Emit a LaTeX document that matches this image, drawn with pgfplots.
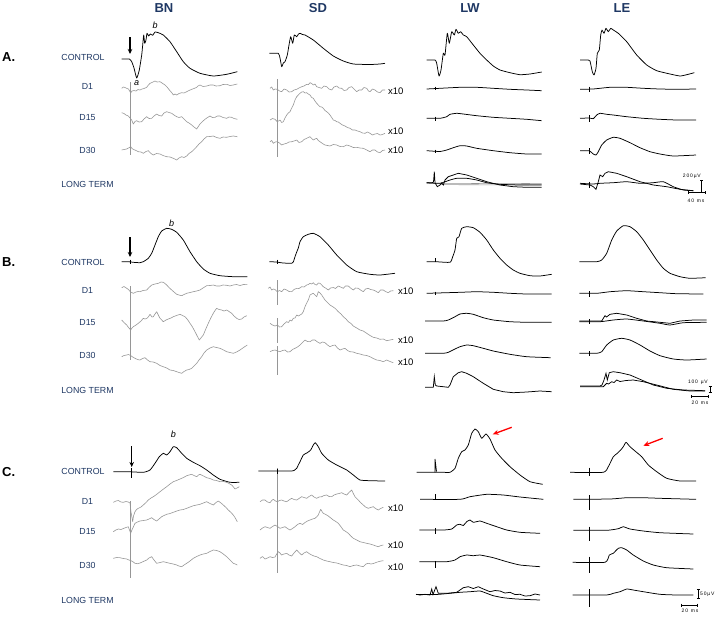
\documentclass[border=0pt]{standalone}
\usepackage{pgfplots}
\pgfplotsset{compat=1.18}
\usetikzlibrary{arrows.meta}
\usepackage{fontspec}
\setmainfont{Liberation Sans}
\definecolor{navy}{RGB}{31,56,100}
\definecolor{tracegray}{RGB}{150,150,150}
\pgfplotsset{
  blk/.style={black, line width=0.75bp, no markers, smooth, tension=0.3, line join=round},
  gry/.style={color=tracegray, line width=0.6bp, no markers, line join=round},
  stk/.style={black, line width=0.75bp, no markers},
}
\newcommand{\ttl}[1]{{\fontsize{13bp}{14bp}\selectfont\bfseries #1}}
\newcommand{\rowl}[1]{{\fontsize{8.8bp}{10bp}\selectfont #1}}
\newcommand{\xten}{{\fontsize{9.5bp}{10bp}\selectfont x10}}
\begin{document}
\begin{tikzpicture}
\begin{axis}[
  width=722bp, height=615bp, scale only axis,
  xmin=0, xmax=722, ymin=0, ymax=615, y dir=reverse,
  hide axis, clip=false,
]
\path (axis cs:0,0) rectangle (axis cs:722,615);
% ---------- titles ----------
\node[text=navy] at (axis cs:164,8) {\ttl{BN}};
\node[text=navy] at (axis cs:318,8) {\ttl{SD}};
\node[text=navy] at (axis cs:470,8) {\ttl{LW}};
\node[text=navy] at (axis cs:622,8) {\ttl{LE}};
% ---------- panel letters ----------
\node[anchor=west, inner sep=0] at (axis cs:2,57) {\ttl{A.}};
\node[anchor=west, inner sep=0] at (axis cs:2,262) {\ttl{B.}};
\node[anchor=west, inner sep=0] at (axis cs:2,472) {\ttl{C.}};
% ---------- row labels ----------
\node[text=navy] at (axis cs:83,57) {\rowl{CONTROL}};
\node[text=navy] at (axis cs:87.5,86) {\rowl{D1}};
\node[text=navy] at (axis cs:87.5,118) {\rowl{D15}};
\node[text=navy] at (axis cs:87.5,150) {\rowl{D30}};
\node[text=navy] at (axis cs:87.5,184) {\rowl{LONG TERM}};
\node[text=navy] at (axis cs:83,262) {\rowl{CONTROL}};
\node[text=navy] at (axis cs:87.5,290.7) {\rowl{D1}};
\node[text=navy] at (axis cs:87.5,322.3) {\rowl{D15}};
\node[text=navy] at (axis cs:87.5,355) {\rowl{D30}};
\node[text=navy] at (axis cs:87.5,390) {\rowl{LONG TERM}};
\node[text=navy] at (axis cs:83,471.7) {\rowl{CONTROL}};
\node[text=navy] at (axis cs:87.5,501.7) {\rowl{D1}};
\node[text=navy] at (axis cs:87.5,531.7) {\rowl{D15}};
\node[text=navy] at (axis cs:87.5,565) {\rowl{D30}};
\node[text=navy] at (axis cs:87.5,600) {\rowl{LONG TERM}};
% ---------- x10 labels ----------
\node[anchor=west, inner sep=0] at (axis cs:388,91) {\xten};
\node[anchor=west, inner sep=0] at (axis cs:388,131) {\xten};
\node[anchor=west, inner sep=0] at (axis cs:388,150.5) {\xten};
\node[anchor=west, inner sep=0] at (axis cs:398,291.7) {\xten};
\node[anchor=west, inner sep=0] at (axis cs:398,340) {\xten};
\node[anchor=west, inner sep=0] at (axis cs:398,362.5) {\xten};
\node[anchor=west, inner sep=0] at (axis cs:388,508.3) {\xten};
\node[anchor=west, inner sep=0] at (axis cs:388,545) {\xten};
\node[anchor=west, inner sep=0] at (axis cs:388,567) {\xten};
% ---------- a / b labels and arrows ----------
\node at (axis cs:136.7,83) {\fontsize{9bp}{10bp}\selectfont\itshape a};
\node at (axis cs:155,25) {\fontsize{9bp}{10bp}\selectfont\itshape b};
\node at (axis cs:171.7,223) {\fontsize{9bp}{10bp}\selectfont\itshape b};
\node at (axis cs:173.3,434) {\fontsize{9bp}{10bp}\selectfont\itshape b};
\draw[-{Stealth[length=5bp,width=4.5bp]}, line width=1.1bp] (axis cs:130,37) -- (axis cs:130,54);
\draw[-{Stealth[length=5bp,width=4.5bp]}, line width=1.1bp] (axis cs:130,237) -- (axis cs:130,257);
\draw[-{Stealth[length=5bp,width=4.5bp]}, line width=1.1bp] (axis cs:131.7,446) -- (axis cs:131.7,467);
\draw[-{Stealth[length=6bp,width=5bp]}, red, line width=1.3bp] (axis cs:511.7,427.3) -- (axis cs:492.7,434.3);
\draw[-{Stealth[length=6bp,width=5bp]}, red, line width=1.3bp] (axis cs:662.7,438.3) -- (axis cs:643.3,445.7);
% ---------- scale bars ----------
\node[anchor=east, inner sep=0] at (axis cs:701,176) {\fontsize{5}{6}\selectfont 2\,0\,0\,µ\,V};
\draw[line width=0.5bp] (axis cs:701.7,180)--(axis cs:701.7,191.7) (axis cs:700,180)--(axis cs:703.4,180);
\draw[line width=0.5bp] (axis cs:688,192.7)--(axis cs:705,192.7) (axis cs:688,191.2)--(axis cs:688,194.2) (axis cs:705,191.2)--(axis cs:705,194.2);
\node at (axis cs:696,201) {\fontsize{5}{6}\selectfont 4\,0 \ m\,s};
\node[anchor=east, inner sep=0] at (axis cs:708,382) {\fontsize{5}{6}\selectfont 1\,0\,0 \ µ\,V};
\draw[line width=0.5bp] (axis cs:710,386.7)--(axis cs:710,392.7) (axis cs:708.5,386.7)--(axis cs:711.5,386.7) (axis cs:708.5,392.7)--(axis cs:711.5,392.7);
\draw[line width=0.5bp] (axis cs:691.7,396.7)--(axis cs:708.3,396.7) (axis cs:691.7,395.2)--(axis cs:691.7,398.2) (axis cs:708.3,395.2)--(axis cs:708.3,398.2);
\node at (axis cs:700,402.5) {\fontsize{5}{6}\selectfont 2\,0 \ m\,s};
\draw[line width=0.5bp] (axis cs:698.3,589.3)--(axis cs:698.3,598.3) (axis cs:696.8,589.3)--(axis cs:699.8,589.3) (axis cs:696.8,598.3)--(axis cs:699.8,598.3);
\node[anchor=west, inner sep=0] at (axis cs:700,594) {\fontsize{5}{6}\selectfont 5\,0\,µ\,V};
\draw[line width=0.5bp] (axis cs:681.7,605)--(axis cs:697.3,605) (axis cs:681.7,603.5)--(axis cs:681.7,606.5) (axis cs:697.3,603.5)--(axis cs:697.3,606.5);
\node at (axis cs:690,611) {\fontsize{5}{6}\selectfont 2\,0 \ m\,s};

% ================= PANEL A =================
% BN
\addplot[blk] coordinates {(121.7,59)(129.3,59)(131.7,61.7)(134,68)(136.7,78)(139.3,70)(141.7,55)(142.7,45)(143.7,35)(144.7,43.3)(146,40)(147,33.3)(148.7,36)(150.3,34)(152.7,35.3)(155,32)(158.3,32.7)(163.3,35)(170,41.7)(176.7,51.7)(183.3,61.7)(190,68.3)(200,73.3)(213.3,76)(226.7,74.3)(237.3,71.7)};
\addplot[gry] coordinates {(130.7,82)(130.7,155)};
\addplot[gry] coordinates {(121.7,88.3)(123.5,87)(125,87.5)(127,88.5)(128.5,89)(130.7,93)(132,91)(134,90.5)(136,91)(138,89.5)(140,90)(142,89)(144,88.5)(146.7,87.3)(148,85.5)(150,83.3)(152,82.5)(155,81)(157,82)(160,81.7)(162,83)(165,85)(167,87)(170,90.7)(172,93)(173.3,95)(175,94)(176.7,95)(179,93.5)(181.7,92.7)(184,93)(186.7,91.7)(189,90.5)(191.7,89.3)(194,88.5)(196.7,87.3)(198,86)(200,85)(203,86.5)(206.7,86)(210,85)(213.3,85)(216,86)(220,85.7)(223,84.5)(226.7,84.3)(230,85.5)(233.3,85)(235,84.5)(237.3,84)};
\addplot[gry] coordinates {(121.7,112.7)(124,113.5)(126,115)(128.3,116)(130,118)(131.7,120)(133.3,124)(135,121.5)(136.7,120.7)(139,122)(141.7,121.7)(144,119)(146.7,116.7)(149,118.5)(151.7,118.3)(154,116)(156.7,114)(159,115.5)(161.7,116)(164,113)(166.7,111.7)(169,112.5)(171.7,113.3)(174,115)(176.7,116.7)(179,117.5)(181.7,116.7)(184,119)(186.7,121.7)(189,123)(191.7,125)(194,127)(196.7,129)(198,127)(200,124)(202.5,121.5)(205,119.3)(207.5,117.5)(210,116)(212.5,117.5)(215,117.3)(217.5,116)(220,116)(223,117.5)(226.7,118.3)(229,117)(231.7,117.3)(234,118.5)(237.3,119.3)};
\addplot[gry] coordinates {(121.7,150)(124,149.5)(126.7,149)(128.5,148)(130.7,146.7)(132,148.5)(133.3,149.3)(136,150.5)(138.3,151.7)(141,152)(143.3,153.3)(146,151.5)(148.3,150.7)(151,153.5)(153.3,155)(156.5,153.5)(160,154)(163,155.5)(166.7,156.7)(170,157)(173.3,158.3)(176.7,160)(179,158)(181.7,156.7)(184,157.5)(186.7,156)(189,153.5)(191.7,151.7)(194,149.5)(196.7,146.7)(199,144)(201.7,141.7)(204,139)(206.7,136.7)(210,136.5)(213.3,136)(216.5,137.5)(220,138.3)(223,137)(226.7,137.3)(230,136.5)(233.3,136)(237.3,136.7)};
% SD
\addplot[blk] coordinates {(269.3,53.3)(278.3,53.3)(280,58)(281.7,66.7)(283.3,63)(285,61.7)(287.3,55)(289,45)(290.7,36.7)(292.7,43.3)(294.3,35)(296.7,36.7)(298.5,34)(300,33.3)(302.5,34.5)(305,35)(313.3,40)(323.3,48.3)(333.3,56)(343.3,61)(353.3,64)(370,64.5)(380,64)(385,63.3)};
\addplot[gry] coordinates {(277.5,79)(277.5,157)};
\addplot[gry] coordinates {(270,88.3)(271.7,87)(273.3,90)(275,89)(277.3,89.3)(279.5,91)(281.7,91.7)(284,89)(286.7,90)(289,92)(291.7,91.7)(294,90)(296.7,89.3)(299,88)(301.7,86.7)(304,86)(306.7,84.3)(308.5,84.5)(310,82.7)(311.7,83.5)(313.3,85)(315,84)(316.7,86.7)(319,87.5)(321.7,88.3)(324,86)(326.7,86.7)(329,89)(331.7,90)(334,87)(336.7,86)(339,88)(341.7,88.3)(344,90.5)(346.7,90)(349,87.5)(351.7,86.7)(354,89)(356.7,91.7)(359,90)(361.7,90)(364,87.5)(366.7,88.3)(368.5,91)(370,91.7)(372.5,89)(375,90)(377.5,92)(380,92.7)(382.5,90)(385,90)};
\addplot[gry] coordinates {(270,120)(272.5,118.5)(275,119.3)(277.3,121.7)(280,120)(281.7,122.5)(283.3,121.7)(285,118)(286.7,115)(288.3,113)(290,111.7)(291.7,108)(293.3,105)(295,100)(296.7,96.7)(298.3,95)(300,93.3)(301.7,92)(303.3,91.7)(305,93)(306.7,92.7)(308.3,94)(310,95)(311.7,97.5)(313.3,98.3)(315,101)(316.7,103.3)(318.3,105)(320,106.7)(321.7,107)(323.3,108.3)(325,110.5)(326.7,111.7)(328.3,113)(330,115)(331.7,117.5)(333.3,120)(335,120.5)(336.7,121.7)(338.3,122)(340,123.3)(342.5,125)(345,126)(347.5,127.5)(350,128.3)(352.5,130)(355,130)(357.5,131)(360,131.7)(362.5,133)(365,133.3)(367.5,132)(370,133.3)(372.5,135)(375,134)(377.5,133.5)(380,135)(382.5,134.5)(385,133.3)};
\addplot[gry] coordinates {(270,141.7)(271.7,140.5)(273.3,143.3)(275.3,142)(277.3,141.7)(279.5,143)(281.7,145)(284,144)(286.7,143.3)(289,142)(291.7,141.7)(294,141)(296.7,140)(299,142.5)(301.7,141.7)(304,139.5)(306.7,138.3)(308.3,137.5)(310,136.7)(311.7,138.5)(313.3,140)(315,139)(316.7,138.3)(318.3,140.5)(320,141.7)(322.5,143.5)(325,145)(327.5,145.5)(330,146)(333.3,144.5)(336.7,145)(340,146.5)(343.3,146.7)(346.7,145)(350,146)(353.3,147.5)(356.7,147.3)(360,148)(363.3,148.3)(366.7,150)(370,151.7)(372.5,150)(375,150)(377.5,152)(380,152.7)(382.5,150.5)(385,150)};
% LW
\addplot[blk] coordinates {(426.7,60)(435,60)(436.7,63.3)(439,76)(441,70)(443.3,53.3)(445,55)(447.3,33.3)(449.3,43.3)(451.7,31.7)(454.3,35)(456,29.3)(458.3,33.3)(460.7,31.7)(463.3,35)(466.7,36.7)(473.3,45)(480,53.3)(486.7,60)(493.3,66)(500,70)(510,72.7)(520,74.7)(530,74)(541.7,72)};
\addplot[blk] coordinates {(426.7,89)(460,87.3)(476.7,87.3)(493.3,88.3)(510,89.3)(526.7,90)(541.7,90.7)};
\addplot[blk] coordinates {(426.7,118.3)(440,118.3)(446.7,116.7)(450,114.3)(456.7,113.3)(463.3,114)(476.7,115.7)(493.3,117.3)(510,118.3)(526.7,119.3)(541.7,120.7)};
\addplot[blk] coordinates {(426.7,150.7)(440,151.5)(446.7,150)(453.3,147.7)(460,145.7)(466.7,146)(476.7,148.3)(493.3,150.7)(510,152.7)(526.7,154)(541.7,154)};
\addplot[stk] coordinates {(435,86.5)(435,90)};
\addplot[stk] coordinates {(435,116.5)(435,120.5)};
\addplot[stk] coordinates {(435,149.5)(435,153)};
\addplot[gry] coordinates {(426.7,183.3)(460,183.3)(500,183.8)(541.7,183.3)};
\addplot[gry] coordinates {(440,184.6)(500,184.9)(541.7,184.6)};
\addplot[stk] coordinates {(426.7,182.7)(432,182.7)(433.5,182)(434.3,171.7)(435,182.7)(437.3,186.7)(440,185)(441.7,183)(443.3,185)(445,180)(448.3,176.7)(453.3,175)(458.3,173.3)(466.7,175)(476.7,178.3)(486.7,181.7)(500,185)(513.3,186.7)(526.7,187.3)(541.7,187.3)};
\addplot[blk] coordinates {(426.7,182.7)(440,183.3)(450,180)(456.7,178.3)(466.7,178.3)(476.7,180)(486.7,182.7)(500,184.3)(520,185)(541.7,185)};
% LE
\addplot[blk] coordinates {(580,60)(588.3,60)(590,61)(592.3,71.7)(594,75)(596,68.3)(597.3,53.3)(599.3,50)(600.7,35)(602,30)(604,33.3)(606,28.3)(608.3,31.7)(610.7,28.3)(613.3,30)(618.3,33.3)(626.7,41.7)(636.7,55)(646.7,65)(656.7,70.7)(670,74)(680,76)(686.7,74.7)(694.3,72.7)};
\addplot[blk] coordinates {(580,89.3)(593,89)(610,87.3)(626.7,87.3)(643.3,88.3)(660,89)(676.7,89.3)(696,89)};
\addplot[blk] coordinates {(580,118.3)(589.3,118)(593.3,118.7)(596.7,115)(600,113.3)(606.7,114.3)(613.3,115)(626.7,116.7)(643.3,118.3)(660,119.3)(676.7,120)(696,120)};
\addplot[blk] coordinates {(580,150.7)(589.3,150.7)(591,152)(593.3,154)(596,155)(598.3,151.7)(601.7,145)(606.7,140)(613.3,137.3)(620,138.3)(630,142.7)(640,147.7)(650,151.7)(660,154)(673.3,156)(696,155)};
\addplot[stk] coordinates {(589.3,86.7)(589.3,91.7)};
\addplot[stk] coordinates {(589.3,115)(589.3,121.7)};
\addplot[stk] coordinates {(589.3,148)(589.3,154)};
\addplot[stk] coordinates {(580,184)(590,185)(593.3,186.7)(596,189.3)(598.3,181.7)(600,175)(602.7,176.7)(605,173.3)(608.3,171.7)(616.7,173.3)(626.7,176.7)(640,181.7)(653.3,185)(666.7,186.7)(680,189.3)(693.3,190.7)};
\addplot[blk] coordinates {(580,183.3)(593.3,184)(600,183.3)(613.3,182.7)(626.7,181.7)(640,183.3)(653.3,182.7)(663.3,181.7)(673.3,186.7)(683.3,190)(693.3,190.7)};
\addplot[stk] coordinates {(589.3,181.7)(589.3,188.3)};

% ================= PANEL B =================
% BN
\addplot[blk] coordinates {(121.7,261.7)(128.3,261.7)(133.3,262.3)(140,262.7)(143.3,261.7)(148.3,258.3)(151.7,253.3)(155,245)(158.3,236.7)(161.7,231)(166.7,228.3)(171.7,229.3)(176.7,232.3)(183.3,240)(190,251.7)(196.7,261.7)(203.3,269)(210,273.3)(220,275.7)(233.3,276.7)(247.3,276.7)};
\addplot[stk] coordinates {(130,259.5)(130,263.5)};
\addplot[gry] coordinates {(130,286)(130,360)};
\addplot[gry] coordinates {(121.7,287.7)(124,286.5)(126.7,288.3)(128.5,289.5)(130.5,292)(133.3,293.3)(136,292)(138,291.5)(140,291.7)(143,290.5)(146.7,290)(149,287.5)(151.7,285)(155,284)(158.3,283.3)(161,282)(163.3,282.3)(165,283.5)(166.7,285)(169,287.5)(171.7,290)(174,292)(176.7,294.3)(179,295)(181.7,295.7)(184,294.5)(186.7,293.3)(190,292.5)(193.3,291.7)(196.5,291)(200,290)(203,288)(206.7,285.7)(210,285.5)(213.3,285)(216.5,286)(220,286)(223,285)(226.7,285.3)(230,286)(233.3,285)(236.5,284.5)(240,285.5)(243.5,284.5)(247.3,284.3)};
\addplot[gry] coordinates {(121.7,320)(124,322.5)(126.7,325)(128.5,327.5)(130.7,330)(132,328)(133.3,326.7)(136,325)(138.3,323.3)(141,321)(143.3,318.3)(145,319)(146.7,318.5)(148.3,317)(150,314.3)(152,317)(153.3,316.7)(155,314)(156.7,311.7)(158.3,315)(160,318.3)(161.7,320)(163.3,321.7)(166,320)(168.3,319)(171,318)(173.3,316.7)(176.5,315.5)(180,314.3)(182.5,315.5)(185,316.7)(187.5,319.5)(190,323.3)(192.5,327)(195,331.7)(197.2,336)(199.3,340)(201.3,337.5)(203.3,335)(205.8,329)(208.3,323.3)(210.8,318)(213.3,313.3)(215,310.5)(216.7,308.3)(219,309.5)(221.7,310)(224,311)(226.7,310)(229,311.5)(231.7,313.3)(234,316)(236.7,318.3)(239,319.5)(241.7,319)(244,317)(246.7,315.7)};
\addplot[gry] coordinates {(121.7,356.7)(124,355.5)(126.7,355)(128.5,354.5)(130.5,355.5)(132.7,357)(135,358.3)(137.5,359.5)(140,360)(142.5,358.5)(145,357.7)(147.5,360)(150,361.7)(153.3,362)(156.7,363.3)(160,365.5)(163.3,366.7)(166.7,368)(170,370)(173.3,370.5)(176.7,371.7)(179,372.5)(181.7,373.3)(184,371.5)(186.7,370)(189,369.5)(191.7,368.3)(194,366)(196.7,363.3)(199,360)(201.7,356.7)(204,353)(206.7,350)(210,348)(213.3,346.7)(216.5,347.5)(220,348.3)(223.5,350)(226.7,351.7)(230,352.5)(233.3,353.3)(236.5,352)(240,350)(243.5,347.5)(247.3,345)};
% SD
\addplot[blk] coordinates {(269.3,261.7)(276,262)(283.3,263)(291.7,263.3)(293.3,262)(295,256.7)(296.7,252)(298.3,248)(300,241.7)(303.3,236.7)(308.3,234.3)(313.3,233.3)(320,236.7)(328.3,245)(336.7,255)(346.7,265)(356.7,271.7)(370,274.3)(380,275)(395,273.3)};
\addplot[stk] coordinates {(277,259.5)(277,263.5)};
\addplot[gry] coordinates {(277.5,280)(277.5,305)};
\addplot[gry] coordinates {(277.5,318)(277.5,343)};
\addplot[gry] coordinates {(277.5,346)(277.5,375)};
\addplot[gry] coordinates {(268.3,288.3)(270,287)(271.7,290)(273.3,289)(275,289.5)(277.3,291.7)(279.5,290.5)(281.7,291.7)(284,289)(286.7,290)(289,291.5)(291.7,291.7)(294,289.5)(296.7,288.3)(299,288.5)(301.7,286.7)(304,287)(306.7,285)(308.3,284.5)(310,283.3)(311.7,284)(313.3,282.7)(315,284.5)(316.7,285)(318.3,283)(320,283.3)(321.7,285)(323.3,286.7)(325.5,288)(328.3,290)(330.5,288)(333.3,287.5)(335.5,288.5)(338.3,286)(340.5,287)(343.3,288.3)(345.5,286)(348.3,286)(350.5,288)(353.3,290)(355.5,288)(358.3,288.3)(360.5,290)(363.3,291.7)(365.5,289)(368.3,288.3)(370.5,289.5)(373.3,290)(375.5,291)(378.3,292.7)(380.5,290)(383.3,290)(385.5,291.5)(388.3,292.7)(390.5,291)(393.3,290.7)};
\addplot[gry] coordinates {(270,323.3)(272.5,325)(275,326)(277.5,325)(279.5,327)(281.7,326.7)(284,324)(286.7,321.7)(288.5,322.5)(290,320)(291.7,321)(293.3,318.3)(295,318)(296.7,315)(298.5,316)(300,315)(301.7,314)(303.3,311.7)(305,306.7)(306.7,303)(308.3,300)(310,295)(311.7,294)(313.3,293.3)(315,295)(316.7,296.7)(318.3,291.7)(320,293)(321.7,295)(323.3,297.5)(325,300)(327.5,302.5)(330,305)(332.5,306.5)(335,308.3)(336.7,310)(338.3,311.7)(341,314)(343.3,316.7)(346,319)(348.3,321.7)(351,323.5)(353.3,326)(356.7,328)(360,330)(363.3,331)(366.7,333.3)(370,335.5)(373.3,337.3)(376.7,338)(380,339.3)(383.3,339)(386.7,340.7)(390,340)(393.3,339.3)};
\addplot[gry] coordinates {(270,351.7)(272.5,350.5)(275,350)(277.5,351)(280,351.7)(282.5,350.5)(285,350)(287.5,352)(290,351.7)(292.5,349.5)(295,348.3)(297.5,347)(300,345)(302.5,342.5)(305,340)(307.5,341.5)(310,341.7)(312.5,340)(315,340)(317.5,342)(320,343.3)(322.5,342)(325,342.7)(327.5,345)(330,346.7)(332.5,345.5)(335,345)(337.5,348)(340,350)(342.5,349)(345,348.3)(347.5,350.5)(350,351.7)(353.3,352)(356.7,353.3)(360,354)(363.3,355)(366.7,355.5)(370,356.7)(373.3,358.5)(376.7,360)(380,360.5)(383.3,361.7)(386.7,360)(390,361.5)(393.3,362.7)};
% LW
\addplot[blk] coordinates {(426.7,261.7)(436,261.7)(450,262.3)(452.7,256.7)(455,250)(456.7,238.3)(459,236.7)(461.7,228.3)(466.7,226.7)(473.3,227.7)(480,232.3)(486.7,240)(493.3,250)(500,258.3)(506.7,265)(513.3,270)(520,273.3)(530,275.7)(540,276)(551.7,274.3)};
\addplot[stk] coordinates {(435,258.3)(435,261.7)};
\addplot[blk] coordinates {(426.7,293.3)(460,292.3)(476.7,291.7)(493.3,292.3)(510,293.3)(526.7,294)(551.7,294)};
\addplot[stk] coordinates {(435,291.5)(435,294.5)};
\addplot[blk] coordinates {(425,321)(443.3,321)(448.3,320)(455,316.7)(460,314)(466.7,313.3)(473.3,314.3)(483.3,317.7)(493.3,320)(510,321.7)(526.7,322.3)(551.7,322.3)};
\addplot[blk] coordinates {(425,353.3)(443.3,353.3)(448.3,352.3)(455,349)(460,346.7)(466.7,345)(473.3,345.7)(483.3,348.3)(493.3,351)(510,354.3)(526.7,356.7)(550.7,357.7)};
\addplot[stk] coordinates {(425,387.3)(433.3,387.3)(434.3,376.7)(435.3,385)(436.7,386)(443.3,386.7)(448.3,387.3)(450,385)(453.3,376.7)(458.3,372.7)(461.7,371.7)(466.7,373.3)(473.3,376.7)(483.3,383.3)(493.3,389.3)(503.3,391.7)(513.3,392.7)(526.7,392)(540,391)(551.7,391.7)};
% LE
\addplot[blk] coordinates {(579.3,261.7)(596.7,261.7)(601.7,260)(606.7,253.3)(611.7,240)(616.7,231)(623.3,225.7)(630,226.7)(636.7,231.7)(643.3,240)(650,250)(656.7,260)(663.3,268.3)(670,273.3)(680,276.7)(690,278.3)(705.7,277.7)};
\addplot[blk] coordinates {(579.3,293.3)(596.7,293.3)(610,291.7)(626.7,290.7)(643.3,291.7)(660,292.7)(676.7,293.7)(703.3,294)};
\addplot[stk] coordinates {(589.3,291)(589.3,296.7)};
\addplot[stk] coordinates {(579.3,321)(601.7,321)(603.5,318)(605,315.7)(606.5,317)(610,314.3)(616.7,313.3)(626.7,315)(636.7,318.3)(646.7,321)(660,322.3)(670,323.3)(680,321)(693.3,320)(706.7,320)};
\addplot[blk] coordinates {(579.3,321.7)(600,321.7)(613.3,320)(626.7,319)(643.3,321)(660,323.3)(670,325)(683.3,322.7)(706.7,322.3)};
\addplot[stk] coordinates {(589.3,319)(589.3,324)};
\addplot[blk] coordinates {(579.3,353.3)(596.7,353.3)(601.7,351.7)(606.7,345)(613.3,340)(621.7,338.3)(630,340)(640,345)(650,351)(660,355.7)(673.3,359)(686.7,360)(706.7,359)};
\addplot[stk] coordinates {(589.3,351)(589.3,356)};
\addplot[stk] coordinates {(580,386)(600,386)(602,385)(604,380)(606,373.3)(607.3,380)(609.3,372.7)(613.3,371.7)(620,372.7)(630,375)(640,379.3)(653.3,385)(666.7,388.3)(683.3,390)(705,390.7)};
\addplot[stk] coordinates {(580,386.7)(603.3,386.7)(606.7,383.3)(608.5,384)(611.7,381.7)(614,382.5)(616.7,380)(620,381.5)(626,380.5)(633.3,380)(643.3,381.7)(656.7,385)(673.3,389.3)(690,391)(705,391)};

% ================= PANEL C =================
% BN
\addplot[blk] coordinates {(113.3,471.7)(128.3,471.7)(143.3,472.3)(150,470)(155,463.3)(159.3,456.7)(163.3,453.3)(166.7,455)(170,451.7)(173.3,446.7)(176.7,447.7)(181.7,453.3)(186.7,458.3)(193.3,462.3)(200,465.7)(206.7,470)(213.3,475)(220,479.3)(230,482.3)(239.3,482.3)};
\addplot[stk] coordinates {(131.7,468.3)(131.7,478.3)};
\addplot[gry] coordinates {(130,501)(130,578)};
\addplot[gry] coordinates {(113.3,502.3)(116,501)(118.3,500.5)(121,502)(123.3,502.3)(126,501.5)(128.3,502)(130,503)(131,512)(132.7,521.7)(133.5,516)(135,511.7)(136.5,509.5)(138.3,508.3)(141,507)(143.3,505)(146,502.5)(148.3,500)(151,498)(153.3,496.7)(156.5,494.5)(160,491.7)(163.5,489)(166.7,486.7)(170,484)(173.3,481.7)(176.5,480.5)(180,479)(183.5,477.5)(186.7,475.7)(189,475)(191.7,474.3)(194,475.5)(196.7,476.7)(198.5,475)(200,474.3)(203.5,476)(206.7,477.7)(210,478.5)(213.3,480)(216.5,480.5)(220,481.7)(223.5,481.5)(226.7,482.3)(229,483.5)(231.7,485)(233.5,487)(235,489)(237,488)(239.3,486.7)};
\addplot[gry] coordinates {(113.3,531.7)(115.8,530)(118.3,529)(121,529.5)(123.3,528.5)(126,527.5)(128.3,526.7)(129.5,530)(130.7,533.3)(131.7,530.5)(132.7,528.3)(134,525.5)(135,523.3)(137.5,522)(140,521)(143.3,520.5)(146.7,520)(149,519)(151.7,517.7)(154,519.5)(156.7,521)(159,519)(161.7,516.7)(164,515.5)(166.7,514.3)(170,513.5)(173.3,512.3)(176.7,511)(180,510)(183.3,509.5)(186.7,508.3)(190,507)(193.3,505.7)(196.7,505)(200,504.3)(203.3,503)(206.7,501.7)(210,503.5)(213.3,505)(216,502.5)(218.3,501)(221,503)(223.3,505)(226,507.5)(228.3,510)(231,512.5)(233.3,515)(235.3,518)(237.3,521.7)};
\addplot[gry] coordinates {(113.3,558.3)(116.7,557.5)(120,557.7)(123.3,558.5)(126.7,559)(129,560)(131.7,561)(133.3,562)(135,563.3)(137.5,563.7)(140,563)(143.3,561.5)(146.7,560)(149,558)(151.7,556.7)(154,560)(156.7,563.3)(160,562.5)(163.3,561.7)(166.7,562.5)(170,563.3)(173.3,564)(176.7,565)(179,566)(181.7,566.7)(184,565)(186.7,563.3)(190,561)(193.3,558.3)(196.7,556.5)(200,555)(203.3,554)(206.7,553.3)(210,551.5)(213.3,550)(216.7,550.5)(220,551.7)(223.3,554)(226.7,556.7)(230,560)(233.3,563.3)(235.3,564)(237.3,565)};
% SD
\addplot[blk] coordinates {(258.3,471)(276.7,471)(291.7,471)(294,470.5)(296.7,468.3)(298.3,465)(300,461.7)(303.3,455)(307.3,452.7)(310.7,450)(313.3,445)(315.3,442.7)(318.3,446.7)(321.7,453.3)(328.3,460)(336.7,465)(346.7,470)(353.3,475)(360,480)(370,480.7)(385,481)};
\addplot[gry] coordinates {(277.3,468.3)(277.3,573.3)};
\addplot[stk] coordinates {(277.3,468.5)(277.3,474)};
\addplot[gry] coordinates {(260,501.7)(262.5,500)(265,500)(267.5,502)(270,502.7)(271.7,500.5)(273.3,499.3)(275.5,501)(277.3,501.7)(279.5,500.5)(281.7,500)(284,501)(286.7,501.7)(289,500)(291.7,498.3)(294,499.5)(296.7,500)(299,498.5)(301.7,496.7)(304,497.5)(306.7,498.3)(309,496.5)(311.7,495)(314,497)(316.7,498.3)(319,497)(321.7,496.7)(324,495.5)(326.7,495)(329,496.5)(331.7,496.7)(334,495)(336.7,494)(339,493.5)(341.7,492.7)(344,494)(346.7,495)(349,492.5)(351.7,490)(353.3,493.5)(355,496.7)(356.7,498.5)(358.3,500)(360.5,502.5)(363.3,505)(365.5,507)(368.3,508.3)(370.5,507.5)(373.3,506.7)(375.5,508.5)(378.3,510)(380.5,508.5)(383.3,507.3)};
\addplot[gry] coordinates {(260,530)(262.5,528)(265,526.7)(267.5,527.5)(270,528.3)(272.5,526.5)(275,525)(277.5,526.5)(280,528.3)(282.5,527.5)(285,526.7)(287.5,528.5)(290,530)(292.5,528.5)(295,526.7)(297.5,524.5)(300,523.3)(302.5,524.5)(305,522.5)(307.5,521)(310,520)(312.5,519)(315,518.3)(317,516.5)(318.3,515)(319.5,512)(320.7,509.3)(322,511.5)(323.3,513.3)(325.8,514.5)(328.3,516)(330.8,518)(333.3,520)(335.8,521.5)(338.3,523.3)(340.8,526.5)(343.3,530)(345.8,531.5)(348.3,533.3)(350.8,536)(353.3,538.3)(356.7,540)(360,541.7)(363.3,542.5)(366.7,543.3)(370,544)(373.3,545)(376,546)(378.3,546.7)(381,545.5)(383.3,545)};
\addplot[gry] coordinates {(260,558.3)(262.5,556.5)(265,559)(267.5,558)(270,556.7)(272.5,557.5)(275,557)(276.7,554)(278.3,551.7)(280,553)(281.5,555)(284,554)(286.7,553.3)(289,555)(291.7,556)(294,553)(296.7,550)(299,552.5)(301.7,555)(304,553)(306.7,551.7)(309,553.5)(311.7,555)(314,556)(316.7,556.7)(320,558.5)(323.3,560)(326.7,561)(330,561.7)(333.3,562.5)(336.7,563)(340,564)(343.3,565)(346.7,565.5)(350,566.7)(353.3,565.5)(356.7,565)(360,566)(363.3,566.7)(366,564)(368.3,563.3)(371,564)(373.3,563.5)(376,562.5)(378.3,561.7)(381,561)(383.3,560.7)};
% LW
\addplot[blk] coordinates {(416.7,472.3)(436.5,472.3)(443.3,472.3)(450,472.3)(455,468.3)(458.3,458.3)(461.7,451.7)(465,450)(468.3,445)(471.7,433.3)(475,429)(478.3,431.7)(481.7,438.3)(486,434)(490,439)(495,450)(501.7,458.3)(510,466.7)(520,475)(530,481.7)(542.7,484.3)};
\addplot[stk] coordinates {(435,472.3)(435,459)(436.5,471.5)};
\addplot[blk] coordinates {(420,499.3)(460,499.3)(470,496.7)(486.7,494.3)(503.3,495)(520,497)(543.3,499.3)};
\addplot[stk] coordinates {(435.5,494.3)(435.5,499.3)};
\addplot[blk] coordinates {(419.3,530)(443.3,530)(451.7,529)(456.7,525)(460,524.3)(463.3,525.5)(466.7,521.7)(470,520)(473.3,522.3)(480,521)(486.7,523.3)(496.7,526.7)(506.7,530)(520,532.3)(540,533.3)};
\addplot[stk] coordinates {(435,528.3)(435,534.3)};
\addplot[blk] coordinates {(419.3,561.7)(446.7,561.7)(455,560)(460,556.7)(466.7,555)(473.3,555.7)(480,555)(493.3,557.7)(506.7,561.7)(520,565)(540,566.7)};
\addplot[stk] coordinates {(435,561)(435,567.7)};
\addplot[stk] coordinates {(416,594.3)(420,595)(425,594.3)(430,595)(431.7,589)(433,594.5)(436,586.7)(438.3,593.3)(446.7,593.3)(456.7,592.3)(463.3,587.7)(468.3,586.7)(473.3,588.5)(478.3,586.7)(483.3,589)(490,591.7)(495,590.5)(500,591)(505,593)(510,592.3)(515,594.5)(520,594.3)(525,596)(530,595.7)(535,594)(540,595)};
\addplot[blk] coordinates {(416,594.5)(436,594.5)(450,593.3)(460,592.3)(470,591.7)(480,591)(486.7,593.3)(493.3,595.7)(503.3,597.7)(516.7,599)(540,600)};
% LE
\addplot[blk] coordinates {(570,472.3)(603.3,472.3)(608.3,466.7)(613.3,456.7)(617.3,453.3)(620.7,450)(623.3,446.7)(626,442.3)(630,446.7)(635,451)(641.7,456.7)(648.3,465)(656.7,471.7)(666.7,478.3)(680,481)(696,481)};
\addplot[stk] coordinates {(589,467.7)(589,475.7)};
\addplot[blk] coordinates {(573.3,499.3)(610,499)(626.7,497.7)(643.3,497.7)(660,498.3)(696,499.3)};
\addplot[stk] coordinates {(589,495)(589,510)};
\addplot[blk] coordinates {(573.3,530.3)(606.7,530.3)(616.7,529)(619,528.5)(623.3,526.7)(630,529)(643.3,531)(660,532.7)(693.3,534)};
\addplot[stk] coordinates {(589,526.7)(589,541)};
\addplot[blk] coordinates {(572.7,562.3)(605,562.3)(609.3,555)(613.3,553.3)(615.5,551)(618.3,548.3)(621.7,547.7)(626.7,550)(633.3,555)(643.3,561)(653.3,565)(666.7,567.7)(693.3,569)};
\addplot[stk] coordinates {(589,556.7)(589,573.3)};
\addplot[blk] coordinates {(572.7,595)(606.7,595)(613.3,593.3)(620,591.7)(626.7,589)(633.3,590)(643.3,591.7)(660,594.3)(676.7,595)(693.3,595)};
\addplot[stk] coordinates {(589,589)(589,606.7)};
\end{axis}
\end{tikzpicture}
\end{document}
